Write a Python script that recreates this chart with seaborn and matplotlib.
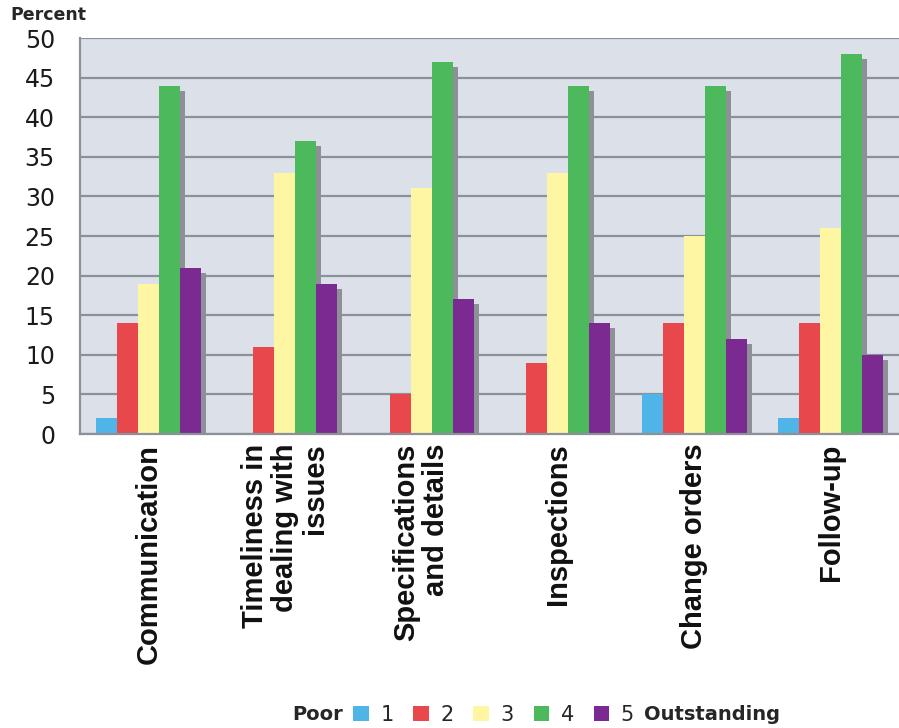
import matplotlib
matplotlib.use("Agg")
import matplotlib.pyplot as plt
import matplotlib.patheffects as pe
from matplotlib.patches import Patch
import numpy as np
import pandas as pd
import seaborn as sns

# Survey categories and rating shares (percent)
categories = [
    "Communication",
    "Timeliness in\ndealing with\nissues",
    "Specifications\nand details",
    "Inspections",
    "Change orders",
    "Follow-up",
]
ratings = ["1", "2", "3", "4", "5"]
rating_1 = [2, 0, 0, 0, 5, 2]
rating_2 = [14, 11, 5, 9, 14, 14]
rating_3 = [19, 33, 31, 33, 25, 26]
rating_4 = [44, 37, 47, 44, 44, 48]
rating_5 = [21, 19, 17, 14, 12, 10]
yticks = [0, 5, 10, 15, 20, 25, 30, 35, 40, 45, 50]

colors = ["#4fb4e8", "#e8474b", "#fff6a4", "#4cb95c", "#7a2a90"]

rows = []
for r, vals in zip(ratings, [rating_1, rating_2, rating_3, rating_4, rating_5]):
    for c, v in zip(categories, vals):
        rows.append({"category": c, "rating": r, "percent": v})
df = pd.DataFrame(rows)

sns.set_style("white")
plt.rcParams["font.family"] = ["DejaVu Sans"]

fig = plt.figure(figsize=(8.99, 7.28), dpi=100)
ax = fig.add_axes([80 / 899, 1 - 434 / 728, 1 - 80 / 899, (434 - 38) / 728])
ax.set_facecolor("#dce0e9")

sns.barplot(data=df, x="category", y="percent", hue="rating",
            hue_order=ratings, order=categories, palette=colors,
            width=0.77, saturation=1, linewidth=0, ax=ax, legend=False)

# drop shadow behind each bar, offset right and down
shadow = [pe.SimplePatchShadow(offset=(3.6, -3.6), shadow_rgbFace="#8e9098",
                               alpha=1.0), pe.Normal()]
for bar in ax.patches:
    bar.set_path_effects(shadow)

ax.set_ylim(0, 50)
ax.set_xlim(-0.5, len(categories) - 0.5)
ax.set_yticks(yticks)
ax.yaxis.grid(True, color="#8b9099", linewidth=1.6)
ax.set_axisbelow(True)
for s in ["top", "right"]:
    ax.spines[s].set_visible(False)
for s in ["left", "bottom"]:
    ax.spines[s].set_color("#8b9099")
    ax.spines[s].set_linewidth(1.6)

ax.tick_params(axis="y", direction="out", length=6, width=1.4, color="#8b9099",
               labelsize=17, labelcolor="#1a1a1a", pad=12)
ax.set_xticks(range(len(categories)))
ax.set_xticks(np.arange(-0.5, len(categories), 1.0), minor=True)
ax.tick_params(axis="x", which="major", length=0, pad=7)
ax.tick_params(axis="x", which="minor", direction="out", length=4, width=1.2,
               color="#8b9099")
ax.set_xticklabels(categories, rotation=90, ha="center", va="top",
                   multialignment="right", fontsize=21, fontweight="bold",
                   family="Liberation Sans", linespacing=1.1, color="#111111")
ax.set_xlabel("")
ax.set_ylabel("")

fig.text(10 / 899, 1 - 15 / 728, "Percent", fontsize=12.5, fontweight="bold",
         ha="left", va="center")

handles = [Patch(facecolor=c, edgecolor="none") for c in colors]
fig.legend(handles, ratings, ncol=5, loc="center", frameon=False,
           bbox_to_anchor=(0.549, 0.018), fontsize=15, handlelength=0.75,
           handleheight=0.75, handletextpad=0.55, columnspacing=0.95,
           borderaxespad=0, borderpad=0)
fig.text(343 / 899, 0.018, "Poor", fontsize=14, fontweight="bold",
         ha="right", va="center")
fig.text(644 / 899, 0.018, "Outstanding", fontsize=14, fontweight="bold",
         ha="left", va="center")

fig.savefig("out.png", dpi=100, facecolor="white")
